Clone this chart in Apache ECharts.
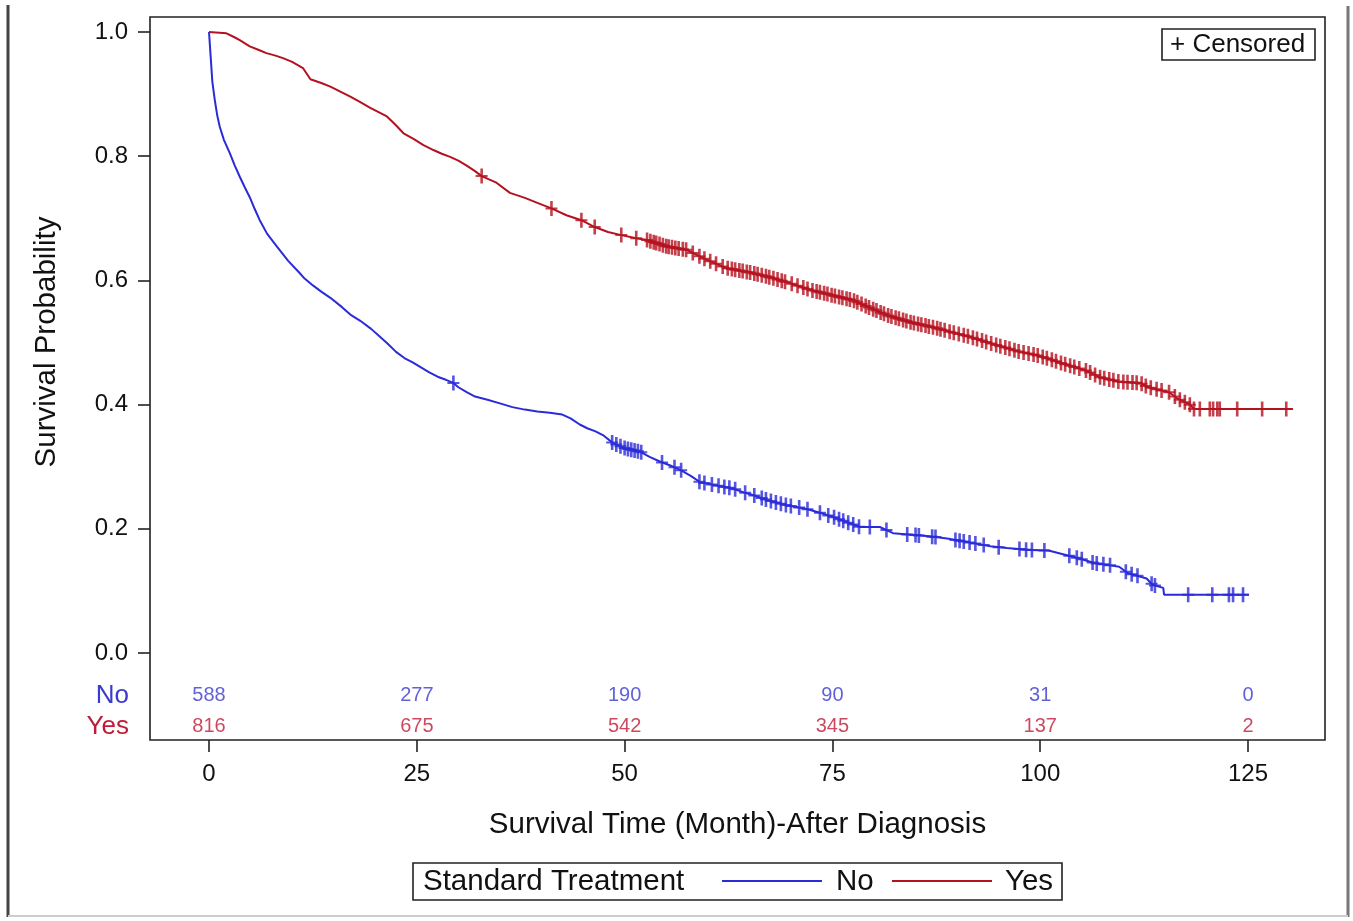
<!DOCTYPE html>
<html>
<head>
<meta charset="utf-8">
<script src="https://cdn.jsdelivr.net/npm/echarts@6/dist/echarts.min.js"></script>
<style>html,body{margin:0;padding:0;background:#fff;}#c{width:1353px;height:921px;}</style>
</head>
<body>
<div id="c"></div>
<script>
// ---- data ----
const noTimes = [0,0.2,0.4,0.7,1.0,1.3,1.8,2.5,3.1,3.7,4.3,4.9,5.5,6.1,7.0,8.2,9.5,10.9,11.5,12.5,13.5,14.6,16,17,18.2,19.5,20.5,21.5,22.5,23.5,24.5,25.5,26.5,27.5,28.5,29.4,30,31,32,33.5,35,36.5,38,39.5,41,42.5,43.5,44.6,45.5,46.5,47.5,48.6,50,51.9,53,54.3,55.5,56.7,58,59.1,61,63,64.5,65.5,67.5,69.5,71.9,73.5,75.1,76.5,78.3,80.7,82.3,86.7,89,91.9,94,96,98.8,101,102.5,104.5,106.5,108,109.5,110.5,112.8,113.5,114.8,114.9,125.1];
const noSurv = [1,0.96,0.92,0.89,0.865,0.847,0.826,0.805,0.785,0.767,0.75,0.734,0.715,0.697,0.675,0.654,0.632,0.612,0.603,0.592,0.582,0.572,0.557,0.545,0.535,0.522,0.51,0.498,0.485,0.475,0.468,0.46,0.452,0.445,0.44,0.435,0.428,0.42,0.413,0.408,0.402,0.396,0.392,0.389,0.387,0.384,0.378,0.368,0.362,0.357,0.35,0.338,0.33,0.324,0.316,0.308,0.302,0.295,0.285,0.275,0.27,0.265,0.258,0.254,0.245,0.238,0.232,0.226,0.219,0.212,0.203,0.203,0.193,0.188,0.184,0.177,0.172,0.169,0.166,0.165,0.16,0.153,0.145,0.142,0.139,0.129,0.12,0.11,0.105,0.094,0.094];
const yesTimes = [0,2.1,3,3.7,4.9,6,6.9,8,8.9,10,11.3,12.2,13.5,14.6,15.8,17,18.2,19.4,20.4,21.4,22.4,23.4,24.6,25.8,27,28,29,30,31,32,32.8,34.5,36.2,38,39.5,41.2,43,44.8,46.4,48,49.6,51.4,52.7,55,57.5,59.9,62.2,65,67.5,70,72.3,75,77.5,79.5,81.6,84.3,87.6,89.5,91.6,93.5,95.5,97.6,99.5,101,103,105.5,107.2,109.5,112,113,115.5,116.5,118,118.5,130.4];
const yesSurv = [1,0.998,0.992,0.987,0.977,0.971,0.966,0.962,0.958,0.952,0.942,0.924,0.918,0.912,0.904,0.896,0.887,0.878,0.871,0.864,0.851,0.837,0.828,0.818,0.81,0.804,0.799,0.793,0.785,0.776,0.768,0.758,0.741,0.733,0.725,0.716,0.705,0.697,0.686,0.678,0.673,0.668,0.665,0.655,0.649,0.633,0.62,0.613,0.605,0.595,0.585,0.576,0.568,0.556,0.544,0.533,0.523,0.516,0.509,0.501,0.493,0.485,0.48,0.474,0.465,0.455,0.444,0.437,0.435,0.428,0.42,0.41,0.4,0.393,0.393];
const noCensor = [29.4,48.5,49.0,49.5,50.0,50.4,50.8,51.2,51.6,52.0,54.5,56.0,56.8,59.0,59.6,60.5,61.3,62.0,62.6,63.3,64.5,65.6,66.5,67.0,67.6,68.2,68.8,69.4,70.0,71.0,72.0,73.5,74.5,75.2,75.8,76.3,76.9,77.5,78.2,79.5,81.5,84.0,85.0,85.4,87.0,87.4,89.8,90.3,90.8,91.5,92.2,93.2,95.0,97.5,98.3,99.0,100.5,103.5,104.4,105.0,106.3,106.8,107.6,108.4,110.3,111.0,111.7,113.4,113.8,117.8,120.7,122.7,123.2,124.4];
const yesCensor = [32.8,41.2,44.8,46.4,49.6,51.4,52.7,53.1,53.5,53.8,54.2,54.6,55.0,55.3,55.7,56.1,56.5,57.0,57.4,58.2,59.0,59.6,60.3,61.0,61.8,62.4,62.9,63.3,63.8,64.2,64.7,65.1,65.6,66.0,66.5,67.0,67.4,67.9,68.4,68.9,69.3,70.1,70.8,71.5,72.0,72.6,73.1,73.5,74.0,74.4,74.9,75.3,75.8,76.2,76.7,77.1,77.6,78.0,78.5,79.0,79.4,79.9,80.3,80.8,81.2,81.7,82.1,82.6,83.0,83.5,83.9,84.4,84.8,85.3,85.7,86.2,86.6,87.1,87.6,88.0,88.5,89.1,89.6,90.2,90.8,91.3,91.9,92.4,93.0,93.5,94.1,94.7,95.2,95.8,96.3,96.9,97.4,98.0,98.6,99.2,99.7,100.3,100.8,101.4,101.9,102.5,103.0,103.6,104.1,104.7,105.5,106.0,106.6,107.2,107.7,108.3,108.8,109.4,110.0,110.5,111.1,111.6,112.2,112.7,113.3,114.0,114.6,115.5,116.2,116.8,117.4,118.0,118.5,119.2,120.4,120.8,121.3,121.6,123.7,126.7,129.6];
const riskTimes = [0,25,50,75,100,125];
const riskNo = [588,277,190,90,31,0];
const riskYes = [816,675,542,345,137,2];
const xTicks = [0,25,50,75,100,125];
const yTicks = [0,0.2,0.4,0.6,0.8,1.0];

// ---- styling / layout ----
const BLUE = '#2b2bd8', RED = '#b5121f';
const BLUE_T = '#3a3acc', RED_T = '#c01a36';
const FONT = '"Liberation Sans", Arial, sans-serif';
const ROW_NO = -0.069, ROW_YES = -0.119; // at-risk row levels (layout)

// value of the drawn curve at time t (so censor marks sit on the line)
function curveAt(times, surv, t) {
  for (let i = times.length - 1; i >= 0; i--) {
    if (times[i] <= t) {
      if (i === times.length - 1 || times[i + 1] === times[i]) return surv[i];
      const f = (t - times[i]) / (times[i + 1] - times[i]);
      return surv[i] + f * (surv[i + 1] - surv[i]);
    }
  }
  return surv[0];
}
const zip = (a, b) => a.map((v, i) => [v, b[i]]);
const plus = 'path://M4.7,0H7.3V15H4.7ZM0,6.5H12V8.5H0Z';

const chart = echarts.init(document.getElementById('c'), null, {renderer: 'canvas'});
chart.setOption({
  animation: false,
  backgroundColor: '#fff',
  textStyle: {fontFamily: FONT},
  grid: {left: 150, top: 17, right: 28, bottom: 181, show: true, borderColor: '#222', borderWidth: 1.6, backgroundColor: 'transparent'},
  xAxis: {
    type: 'value', min: -7.1, max: 134.26,
    name: 'Survival Time (Month)-After Diagnosis', nameLocation: 'middle', nameGap: 70,
    nameTextStyle: {fontSize: 29.5, color: '#111', fontFamily: FONT},
    axisLine: {show: false, onZero: false},
    axisTick: {show: true, customValues: xTicks, length: 12, lineStyle: {color: '#222', width: 1.6}},
    axisLabel: {customValues: xTicks, fontSize: 24, color: '#111', margin: 22, fontFamily: FONT},
    splitLine: {show: false}
  },
  yAxis: {
    type: 'value', min: -0.14, max: 1.0242,
    axisLine: {show: false, onZero: false},
    axisTick: {show: true, customValues: yTicks, length: 12, lineStyle: {color: '#222', width: 1.6}},
    axisLabel: {customValues: yTicks, fontSize: 24, color: '#111', margin: 22, fontFamily: FONT, formatter: v => v.toFixed(1)},
    splitLine: {show: false}
  },
  series: [
    {name: 'No', type: 'line', data: zip(noTimes, noSurv), showSymbol: false, lineStyle: {color: BLUE, width: 2}, itemStyle: {color: BLUE}, z: 3},
    {name: 'Yes', type: 'line', data: zip(yesTimes, yesSurv), showSymbol: false, lineStyle: {color: RED, width: 2}, itemStyle: {color: RED}, z: 3},
    {name: 'No censored', type: 'scatter', symbol: plus, symbolSize: [12, 15], itemStyle: {color: BLUE},
     data: noCensor.map(t => [t, curveAt(noTimes, noSurv, t)]), z: 4},
    {name: 'Yes censored', type: 'scatter', symbol: plus, symbolSize: [12, 15], itemStyle: {color: RED},
     data: yesCensor.map(t => [t, curveAt(yesTimes, yesSurv, t)]), z: 4},
    {name: 'No at risk', type: 'scatter', symbolSize: 0, silent: true,
     data: riskTimes.map((t, i) => [t, ROW_NO, riskNo[i]]),
     label: {show: true, position: 'inside', formatter: p => String(p.value[2]), fontSize: 20, color: BLUE_T, fontFamily: FONT}},
    {name: 'Yes at risk', type: 'scatter', symbolSize: 0, silent: true,
     data: riskTimes.map((t, i) => [t, ROW_YES, riskYes[i]]),
     label: {show: true, position: 'inside', formatter: p => String(p.value[2]), fontSize: 20, color: RED_T, fontFamily: FONT}}
  ],
  graphic: [
    // outer frame
    {type: 'line', shape: {x1: 8, y1: 5, x2: 8, y2: 917}, style: {stroke: '#444', lineWidth: 3}},
    {type: 'line', shape: {x1: 1348, y1: 6, x2: 1348, y2: 917}, style: {stroke: '#777', lineWidth: 3}},
    {type: 'line', shape: {x1: 8, y1: 916, x2: 1348, y2: 916}, style: {stroke: '#ccc', lineWidth: 2}},
    // y title
    {type: 'text', x: 47, y: 342, rotation: Math.PI / 2,
     style: {text: 'Survival Probability', fill: '#111', font: '29.5px ' + FONT, textAlign: 'center', textVerticalAlign: 'middle'}},
    // at-risk row labels
    {type: 'text', x: 129, y: 696, style: {text: 'No', fill: BLUE_T, font: '26px ' + FONT, textAlign: 'right', textVerticalAlign: 'middle'}},
    {type: 'text', x: 129, y: 727, style: {text: 'Yes', fill: RED_T, font: '26px ' + FONT, textAlign: 'right', textVerticalAlign: 'middle'}},
    // censored box
    {type: 'rect', shape: {x: 1162, y: 29, width: 153, height: 31}, style: {fill: '#fff', stroke: '#222', lineWidth: 1.6}, z: 10},
    {type: 'text', x: 1170, y: 45, z: 11, style: {text: '+ Censored', fill: '#111', font: '26px ' + FONT, textAlign: 'left', textVerticalAlign: 'middle'}},
    // bottom legend
    {type: 'rect', shape: {x: 413, y: 863, width: 649, height: 37}, style: {fill: '#fff', stroke: '#222', lineWidth: 1.6}},
    {type: 'text', x: 423, y: 882, style: {text: 'Standard Treatment', fill: '#111', font: '29.5px ' + FONT, textAlign: 'left', textVerticalAlign: 'middle'}},
    {type: 'line', shape: {x1: 722, y1: 881, x2: 822, y2: 881}, style: {stroke: BLUE, lineWidth: 2}},
    {type: 'text', x: 836, y: 882, style: {text: 'No', fill: '#111', font: '29.5px ' + FONT, textAlign: 'left', textVerticalAlign: 'middle'}},
    {type: 'line', shape: {x1: 892, y1: 881, x2: 992, y2: 881}, style: {stroke: RED, lineWidth: 2}},
    {type: 'text', x: 1005, y: 882, style: {text: 'Yes', fill: '#111', font: '29.5px ' + FONT, textAlign: 'left', textVerticalAlign: 'middle'}}
  ]
});
</script>
</body>
</html>
